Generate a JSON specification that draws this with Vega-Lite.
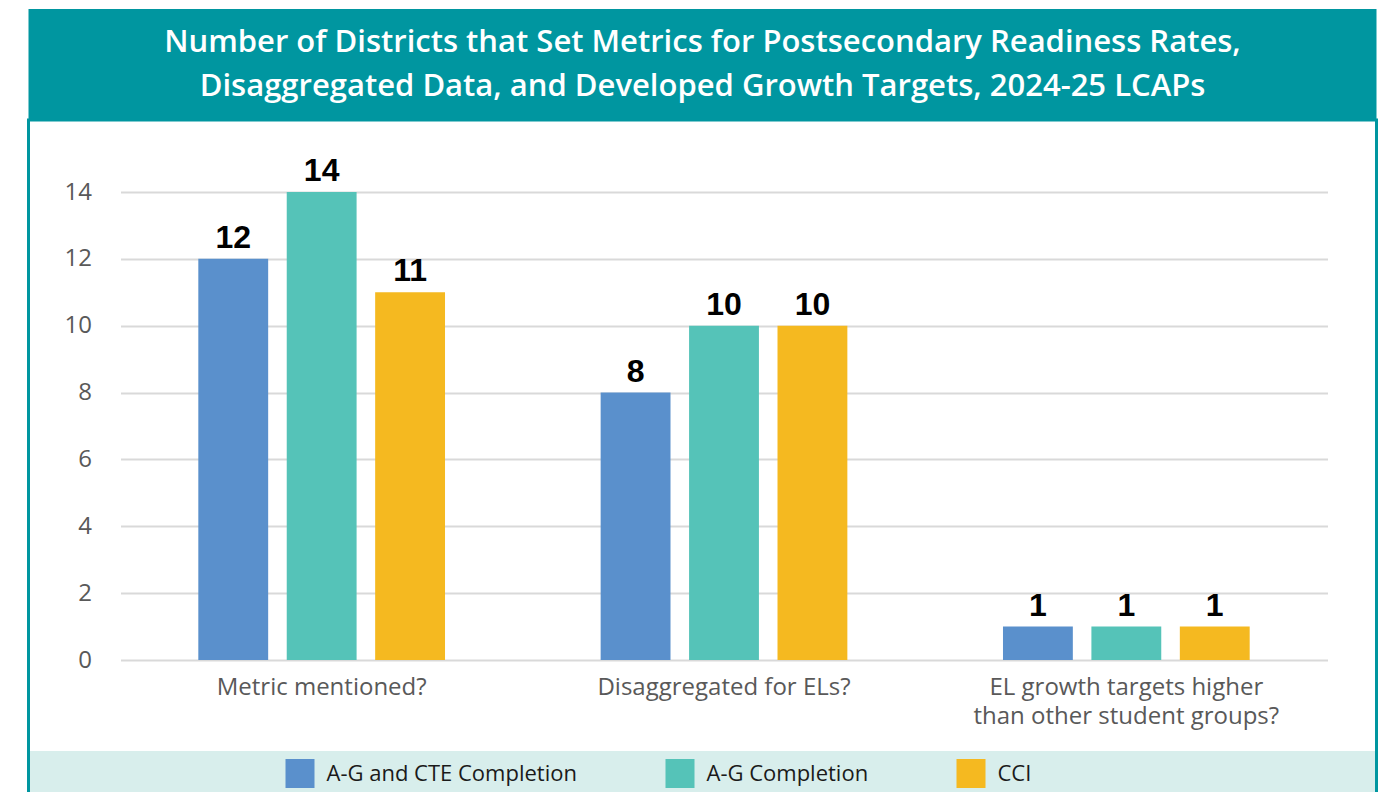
{
  "$schema": "https://vega.github.io/schema/vega-lite/v6.json",
  "padding": {"left": 26.5, "top": 9, "right": 0, "bottom": 0},
  "background": "white",
  "spacing": 0,
  "bounds": "flush",
  "config": {"view": {"stroke": null}, "font": "Open Sans"},
  "datasets": {
    "bars": [
      {"question": "Metric mentioned?", "series": "A-G and CTE Completion", "count": 12},
      {"question": "Metric mentioned?", "series": "A-G Completion", "count": 14},
      {"question": "Metric mentioned?", "series": "CCI", "count": 11},
      {"question": "Disaggregated for ELs?", "series": "A-G and CTE Completion", "count": 8},
      {"question": "Disaggregated for ELs?", "series": "A-G Completion", "count": 10},
      {"question": "Disaggregated for ELs?", "series": "CCI", "count": 10},
      {"question": "EL growth targets higher than other student groups?", "series": "A-G and CTE Completion", "count": 1},
      {"question": "EL growth targets higher than other student groups?", "series": "A-G Completion", "count": 1},
      {"question": "EL growth targets higher than other student groups?", "series": "CCI", "count": 1}
    ]
  },
  "resolve": {"scale": {"color": "independent"}, "legend": {"color": "independent"}},
  "vconcat": [
    {
      "width": 1348,
      "height": 111,
      "view": {"fill": "#0096a0", "stroke": null},
      "data": {"values": [{"title": "Number of Districts that Set Metrics for Postsecondary Readiness Rates,\nDisaggregated Data, and Developed Growth Targets, 2024-25 LCAPs"}]},
      "mark": {"type": "text", "color": "white", "fontSize": 31, "fontWeight": 600, "font": "Open Sans", "lineBreak": "\n", "lineHeight": 44, "align": "center", "baseline": "middle", "dy": -22},
      "encoding": {"text": {"field": "title"}}
    },
    {
      "width": 1348,
      "height": 631,
      "view": {"fill": "white", "stroke": "#0096a0", "strokeWidth": 3, "strokeDash": [1979, 1348, 631]},
      "data": {"name": "bars"},
      "encoding": {
        "x": {
          "field": "question",
          "type": "nominal",
          "sort": ["Metric mentioned?", "Disaggregated for ELs?", "EL growth targets higher than other student groups?"],
          "scale": {"range": [92, 1299], "paddingInner": 0, "paddingOuter": 0},
          "axis": {
            "title": null,
            "orient": "bottom",
            "offset": -91,
            "domain": false,
            "ticks": false,
            "tickSize": 0,
            "labelAngle": 0,
            "labelPadding": 15,
            "labelFont": "Open Sans",
            "labelFontSize": 24,
            "labelColor": "#595959",
            "labelLineHeight": 29,
            "labelLimit": 500,
            "labelExpr": "datum.label == 'EL growth targets higher than other student groups?' ? ['EL growth targets higher', 'than other student groups?'] : datum.label"
          }
        },
        "xOffset": {
          "field": "series",
          "type": "nominal",
          "sort": ["A-G and CTE Completion", "A-G Completion", "CCI"],
          "scale": {"paddingInner": 0.21, "paddingOuter": 0.88}
        },
        "y": {
          "field": "count",
          "type": "quantitative",
          "scale": {"domain": [0, 14], "range": [540, 72], "nice": false},
          "axis": {
            "title": null,
            "values": [0, 2, 4, 6, 8, 10, 12, 14],
            "domain": false,
            "ticks": false,
            "tickSize": 0,
            "labelPadding": -63,
            "labelFont": "Open Sans",
            "labelFontSize": 24,
            "labelColor": "#595959",
            "grid": true,
            "gridColor": "#d9d9d9",
            "gridWidth": 2
          }
        }
      },
      "layer": [
        {
          "mark": {"type": "bar"},
          "encoding": {
            "color": {
              "field": "series",
              "type": "nominal",
              "scale": {"domain": ["A-G and CTE Completion", "A-G Completion", "CCI"], "range": ["#5a90cc", "#55c3b8", "#f5b920"]},
              "legend": null
            }
          }
        },
        {
          "mark": {"type": "text", "font": "Liberation Sans", "fontWeight": "bold", "fontSize": 32, "color": "black", "baseline": "alphabetic", "dy": -11},
          "encoding": {"text": {"field": "count", "type": "quantitative"}}
        }
      ]
    },
    {
      "width": 1348,
      "height": 45,
      "view": {"fill": "#d8eeec", "stroke": "#0096a0", "strokeWidth": 3, "strokeDash": [0, 1348, 45, 1348, 45]},
      "data": {"name": "bars"},
      "transform": [{"filter": "false"}],
      "mark": {"type": "square"},
      "encoding": {
        "color": {
          "field": "series",
          "type": "nominal",
          "scale": {"domain": ["A-G and CTE Completion", "A-G Completion", "CCI"], "range": ["#5a90cc", "#55c3b8", "#f5b920"]},
          "legend": {
            "title": null,
            "orient": "none",
            "legendX": 257,
            "legendY": 8,
            "direction": "horizontal",
            "symbolType": "square",
            "symbolSize": 841,
            "symbolStrokeWidth": 0,
            "symbolOpacity": 1,
            "labelFont": "Open Sans",
            "labelFontSize": 22,
            "labelColor": "#1a1a1a",
            "labelLimit": 500,
            "labelOffset": 12,
            "columnPadding": 88,
            "padding": 0
          }
        }
      }
    }
  ]
}
